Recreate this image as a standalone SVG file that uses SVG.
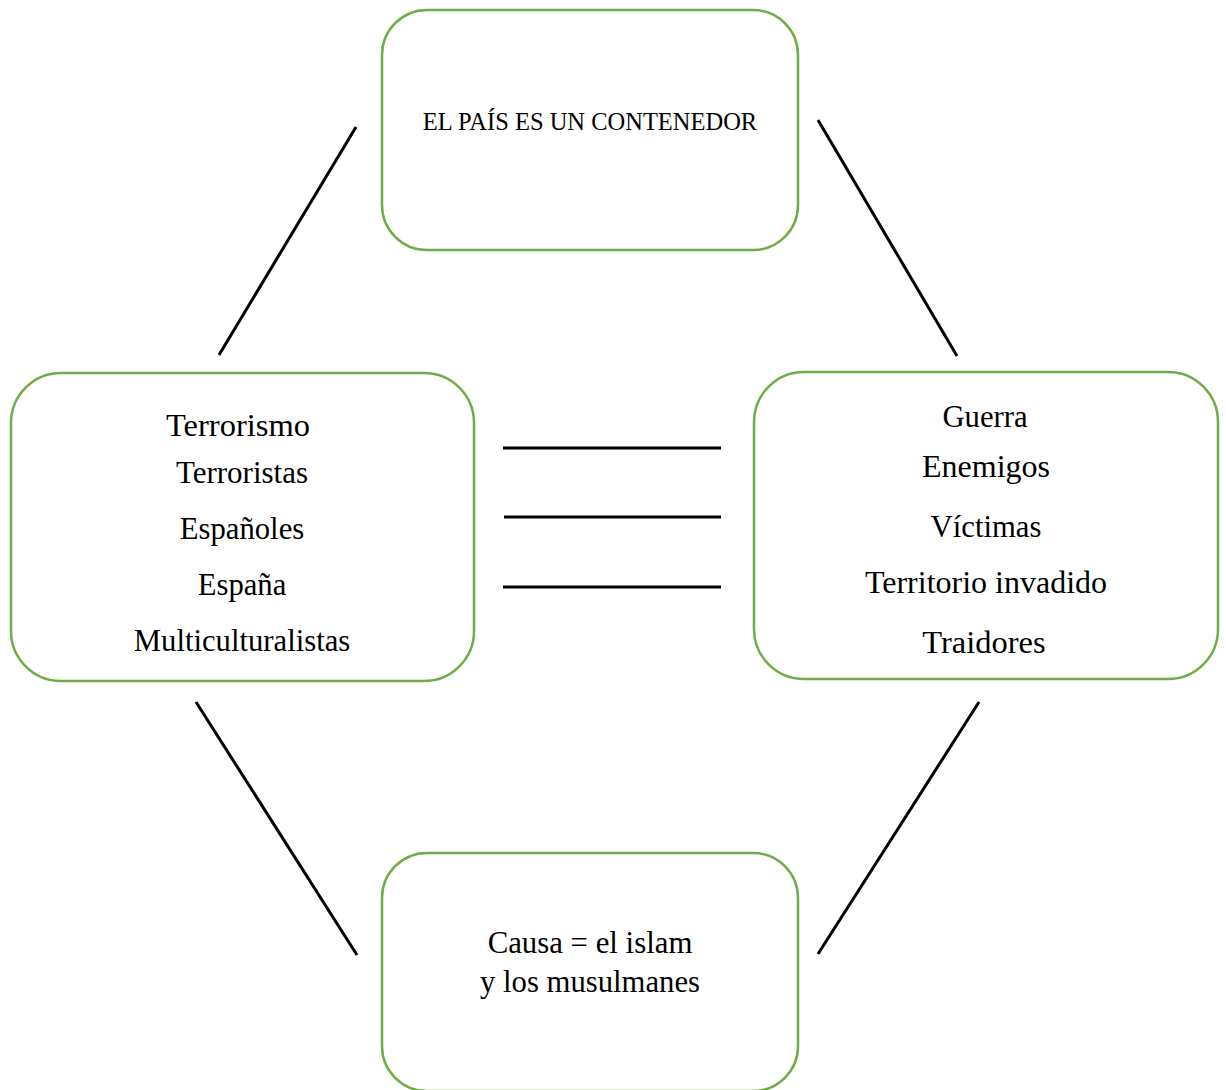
<svg xmlns="http://www.w3.org/2000/svg" width="1226" height="1090" viewBox="0 0 1226 1090">
<style>
.box{fill:#fff;stroke:#70AD47;stroke-width:2.5}
.t{font-family:"Liberation Serif","Times New Roman",serif;fill:#000;text-anchor:middle}
.ln{stroke:#000;stroke-width:3;fill:none}
</style>
<rect width="1226" height="1090" fill="#fff"/>
<g id="connectors">
<line class="ln" x1="356" y1="127" x2="219" y2="355"/>
<line class="ln" x1="818" y1="120" x2="957" y2="356"/>
<line class="ln" x1="196" y1="702" x2="357" y2="955"/>
<line class="ln" x1="979" y1="702" x2="818" y2="954"/>
<line class="ln" x1="503" y1="448" x2="721" y2="448"/>
<line class="ln" x1="504" y1="517" x2="721" y2="517"/>
<line class="ln" x1="503" y1="587" x2="721" y2="587"/>
</g>
<g id="top">
<rect class="box" x="382" y="10" width="416" height="240" rx="45" ry="45"/>
<text class="t" x="590" y="130" font-size="24.5">EL PAÍS ES UN CONTENEDOR</text>
</g>
<g id="left">
<rect class="box" x="11" y="373" width="463" height="308" rx="50" ry="50"/>
<text class="t" x="238" y="436" font-size="32.5">Terrorismo</text>
<text class="t" x="242" y="483" font-size="31">Terroristas</text>
<text class="t" x="242" y="539" font-size="30.7">Españoles</text>
<text class="t" x="242" y="595" font-size="30.7">España</text>
<text class="t" x="242" y="651" font-size="30.7">Multiculturalistas</text>
</g>
<g id="right">
<rect class="box" x="754" y="372" width="464" height="307" rx="50" ry="50"/>
<text class="t" x="985" y="427" font-size="30.7">Guerra</text>
<text class="t" x="986" y="477" font-size="32">Enemigos</text>
<text class="t" x="986" y="537" font-size="30.7">Víctimas</text>
<text class="t" x="986" y="593" font-size="32">Territorio invadido</text>
<text class="t" x="984" y="653" font-size="32.5">Traidores</text>
</g>
<g id="bottom">
<rect class="box" x="382" y="853" width="416" height="238" rx="45" ry="45"/>
<text class="t" x="590" y="953" font-size="30.8">Causa = el islam</text>
<text class="t" x="590" y="992" font-size="30.7">y los musulmanes</text>
</g>
</svg>
